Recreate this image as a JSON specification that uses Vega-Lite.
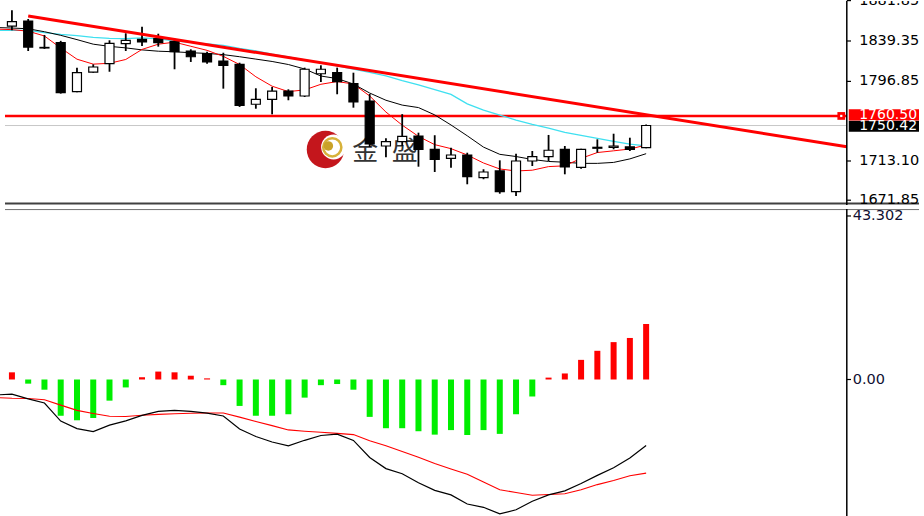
{
  "$schema": "https://vega.github.io/schema/vega-lite/v6.json",
  "padding": 0,
  "spacing": 2,
  "background": "white",
  "config": {"view": {"stroke": null}, "text": {"font": "DejaVu Sans"}},
  "datasets": {
    "candles": [
      {"i":0,"o":1855.1,"h":1871.6,"l":1850.6,"c":1859.7},
      {"i":1,"o":1860.4,"h":1862.5,"l":1828.8,"c":1833.0},
      {"i":2,"o":1832.6,"h":1845.7,"l":1831.0,"c":1832.0},
      {"i":3,"o":1837.6,"h":1839.5,"l":1784.0,"c":1785.0},
      {"i":4,"o":1786.0,"h":1811.3,"l":1785.5,"c":1806.0},
      {"i":5,"o":1806.7,"h":1814.8,"l":1806.0,"c":1812.0},
      {"i":6,"o":1815.5,"h":1840.1,"l":1807.0,"c":1836.9},
      {"i":7,"o":1836.5,"h":1847.5,"l":1828.8,"c":1840.1},
      {"i":8,"o":1841.1,"h":1854.4,"l":1834.1,"c":1838.3},
      {"i":9,"o":1841.8,"h":1847.0,"l":1833.4,"c":1837.6},
      {"i":10,"o":1838.6,"h":1841.8,"l":1809.6,"c":1828.1},
      {"i":11,"o":1828.8,"h":1830.6,"l":1817.3,"c":1822.8},
      {"i":12,"o":1826.0,"h":1828.1,"l":1815.5,"c":1817.3},
      {"i":13,"o":1818.3,"h":1827.0,"l":1789.2,"c":1813.8},
      {"i":14,"o":1814.8,"h":1816.5,"l":1770.0,"c":1771.7},
      {"i":15,"o":1772.8,"h":1789.6,"l":1768.1,"c":1778.0},
      {"i":16,"o":1778.0,"h":1791.0,"l":1762.2,"c":1786.7},
      {"i":17,"o":1786.7,"h":1788.5,"l":1777.0,"c":1781.5},
      {"i":18,"o":1781.5,"h":1811.3,"l":1780.4,"c":1809.6},
      {"i":19,"o":1804.9,"h":1813.8,"l":1796.2,"c":1809.6},
      {"i":20,"o":1806.0,"h":1811.3,"l":1783.3,"c":1796.5},
      {"i":21,"o":1794.4,"h":1806.0,"l":1769.2,"c":1775.2},
      {"i":22,"o":1776.2,"h":1783.6,"l":1727.8,"c":1731.0},
      {"i":23,"o":1728.9,"h":1737.0,"l":1717.0,"c":1733.4},
      {"i":24,"o":1733.4,"h":1762.4,"l":1729.0,"c":1739.0},
      {"i":25,"o":1739.4,"h":1742.9,"l":1707.1,"c":1725.4},
      {"i":26,"o":1725.4,"h":1740.2,"l":1701.5,"c":1714.9},
      {"i":27,"o":1715.9,"h":1727.1,"l":1706.1,"c":1719.4},
      {"i":28,"o":1719.4,"h":1721.8,"l":1688.6,"c":1696.6},
      {"i":29,"o":1695.6,"h":1704.4,"l":1693.9,"c":1701.5},
      {"i":30,"o":1702.6,"h":1713.8,"l":1678.7,"c":1680.8},
      {"i":31,"o":1680.8,"h":1720.8,"l":1676.3,"c":1713.1},
      {"i":32,"o":1713.1,"h":1723.6,"l":1707.8,"c":1717.6},
      {"i":33,"o":1717.7,"h":1740.5,"l":1713.1,"c":1724.4},
      {"i":34,"o":1725.4,"h":1728.9,"l":1699.1,"c":1706.8},
      {"i":35,"o":1706.4,"h":1726.0,"l":1705.0,"c":1725.4},
      {"i":36,"o":1726.5,"h":1735.9,"l":1721.8,"c":1727.5},
      {"i":37,"o":1727.5,"h":1741.8,"l":1725.4,"c":1728.9},
      {"i":38,"o":1727.9,"h":1737.6,"l":1723.6,"c":1725.4},
      {"i":39,"o":1727.1,"h":1751.5,"l":1726.5,"c":1750.42}
    ],
    "ma": [
      {"i":-1,"r":1851.9,"k":1853.5,"cy":1850.6},
      {"i":0,"r":1851.3,"k":1853.0,"cy":1850.6},
      {"i":1,"r":1849.7,"k":1852.2,"cy":1850.6},
      {"i":2,"r":1844.6,"k":1849.1,"cy":1848.1},
      {"i":3,"r":1832.0,"k":1845.3,"cy":1846.3},
      {"i":4,"r":1820.2,"k":1840.8,"cy":1845.0},
      {"i":5,"r":1815.0,"k":1836.0,"cy":1843.2},
      {"i":6,"r":1815.9,"k":1833.7,"cy":1842.1},
      {"i":7,"r":1819.9,"k":1832.1,"cy":1841.9},
      {"i":8,"r":1830.5,"k":1830.0,"cy":1842.7},
      {"i":9,"r":1836.0,"k":1828.6,"cy":1841.6},
      {"i":10,"r":1838.1,"k":1828.0,"cy":1839.6},
      {"i":11,"r":1833.8,"k":1827.0,"cy":1837.8},
      {"i":12,"r":1829.5,"k":1826.3,"cy":1836.2},
      {"i":13,"r":1823.2,"k":1825.0,"cy":1834.7},
      {"i":14,"r":1814.6,"k":1822.8,"cy":1831.6},
      {"i":15,"r":1801.7,"k":1820.3,"cy":1829.0},
      {"i":16,"r":1791.8,"k":1817.8,"cy":1825.4},
      {"i":17,"r":1786.1,"k":1814.6,"cy":1822.5},
      {"i":18,"r":1787.9,"k":1809.9,"cy":1819.4},
      {"i":19,"r":1793.8,"k":1802.5,"cy":1816.6},
      {"i":20,"r":1796.7,"k":1799.8,"cy":1813.3},
      {"i":21,"r":1794.1,"k":1794.1,"cy":1809.8},
      {"i":22,"r":1781.5,"k":1784.6,"cy":1806.4},
      {"i":23,"r":1764.6,"k":1777.0,"cy":1802.7},
      {"i":24,"r":1750.8,"k":1771.9,"cy":1797.7},
      {"i":25,"r":1739.0,"k":1769.3,"cy":1793.3},
      {"i":26,"r":1730.3,"k":1761.6,"cy":1788.1},
      {"i":27,"r":1726.1,"k":1751.0,"cy":1783.1},
      {"i":28,"r":1719.4,"k":1739.6,"cy":1773.2},
      {"i":29,"r":1711.0,"k":1727.7,"cy":1766.6},
      {"i":30,"r":1704.7,"k":1720.1,"cy":1761.4},
      {"i":31,"r":1702.6,"k":1717.8,"cy":1756.2},
      {"i":32,"r":1703.4,"k":1714.7,"cy":1751.7},
      {"i":33,"r":1707.2,"k":1712.6,"cy":1747.8},
      {"i":34,"r":1708.0,"k":1711.8,"cy":1743.2},
      {"i":35,"r":1715.9,"k":1710.6,"cy":1740.0},
      {"i":36,"r":1722.0,"k":1710.6,"cy":1736.8},
      {"i":37,"r":1723.8,"k":1711.6,"cy":1733.8},
      {"i":38,"r":1725.7,"k":1715.3,"cy":1730.9},
      {"i":39,"r":1729.9,"k":1720.8,"cy":1728.9}
    ],
    "hist": [
      {"i":0,"h":1.9},{"i":1,"h":-1.1},{"i":2,"h":-2.7},{"i":3,"h":-9.6},{"i":4,"h":-10.8},
      {"i":5,"h":-10.2},{"i":6,"h":-5.6},{"i":7,"h":-2.1},{"i":8,"h":0.6},{"i":9,"h":2.1},
      {"i":10,"h":1.9},{"i":11,"h":1.0},{"i":12,"h":0.3},{"i":13,"h":-1.5},{"i":14,"h":-7.0},
      {"i":15,"h":-9.6},{"i":16,"h":-9.6},{"i":17,"h":-9.2},{"i":18,"h":-4.8},{"i":19,"h":-1.5},
      {"i":20,"h":-1.2},{"i":21,"h":-2.7},{"i":22,"h":-9.9},{"i":23,"h":-12.9},{"i":24,"h":-12.9},
      {"i":25,"h":-13.7},{"i":26,"h":-14.6},{"i":27,"h":-13.4},{"i":28,"h":-14.7},{"i":29,"h":-13.4},
      {"i":30,"h":-14.4},{"i":31,"h":-9.2},{"i":32,"h":-4.5},{"i":33,"h":0.5},{"i":34,"h":1.6},
      {"i":35,"h":5.2},{"i":36,"h":7.6},{"i":37,"h":9.9},{"i":38,"h":11.0},{"i":39,"h":14.7}
    ],
    "macd": [
      {"i":-1,"m":-4.10,"s":-4.77},{"i":0,"m":-3.89,"s":-4.95},{"i":1,"m":-5.14,"s":-5.03},
      {"i":2,"m":-6.22,"s":-5.35},{"i":3,"m":-11.02,"s":-6.78},{"i":4,"m":-13.00,"s":-8.18},
      {"i":5,"m":-13.80,"s":-9.00},{"i":6,"m":-12.10,"s":-9.74},{"i":7,"m":-10.96,"s":-9.80},
      {"i":8,"m":-9.51,"s":-9.48},{"i":9,"m":-8.45,"s":-9.24},{"i":10,"m":-8.16,"s":-9.06},
      {"i":11,"m":-8.45,"s":-8.92},{"i":12,"m":-8.90,"s":-8.87},{"i":13,"m":-9.67,"s":-8.87},
      {"i":14,"m":-13.11,"s":-9.96},{"i":15,"m":-15.09,"s":-11.10},{"i":16,"m":-16.55,"s":-12.21},
      {"i":17,"m":-17.56,"s":-13.35},{"i":18,"m":-16.10,"s":-13.69},{"i":19,"m":-14.83,"s":-13.98},
      {"i":20,"m":-14.48,"s":-14.27},{"i":21,"m":-16.13,"s":-14.59},{"i":22,"m":-20.65,"s":-16.23},
      {"i":23,"m":-23.59,"s":-17.53},{"i":24,"m":-24.97,"s":-19.07},{"i":25,"m":-27.35,"s":-20.60},
      {"i":26,"m":-29.37,"s":-22.24},{"i":27,"m":-30.56,"s":-23.70},{"i":28,"m":-32.97,"s":-25.08},
      {"i":29,"m":-33.84,"s":-27.17},{"i":30,"m":-35.59,"s":-29.18},{"i":31,"m":-34.48,"s":-29.92},
      {"i":32,"m":-32.25,"s":-30.66},{"i":33,"m":-30.56,"s":-30.45},{"i":34,"m":-29.50,"s":-30.27},
      {"i":35,"m":-27.54,"s":-29.18},{"i":36,"m":-25.39,"s":-27.83},{"i":37,"m":-23.36,"s":-26.74},
      {"i":38,"m":-20.76,"s":-25.50},{"i":39,"m":-17.48,"s":-24.79}
    ],
    "ticksTop": [{"v":1881.85},{"v":1839.35},{"v":1796.85},{"v":1713.10},{"v":1671.85}],
    "ticksBot": [{"v":43.302,"t":"43.302"},{"v":0,"t":"0.00"},{"v":-37.9,"t":"-37.930"}],
    "one": [{}]
  },
  "vconcat": [
    {
      "width": 924,
      "height": 204,
      "layer": [
        {"data":{"name":"one"},"mark":{"type":"point","shape":"circle","filled":true,"opacity":1,"size":1400,"color":"#c4161c"},
         "encoding":{"x":{"datum":19.28,"type":"quantitative","scale":{"domain":[-0.426,55.78],"nice":false,"zero":false},"axis":null},
                     "y":{"datum":1725.2,"type":"quantitative","scale":{"domain":[1666.8,1881.43],"nice":false,"zero":false},"axis":null}}},
        {"data":{"name":"one"},"mark":{"type":"point","shape":"circle","filled":true,"opacity":1,"size":620,"color":"white"},
         "encoding":{"x":{"datum":19.78,"type":"quantitative"},"y":{"datum":1727.8,"type":"quantitative"}}},
        {"data":{"name":"one"},"mark":{"type":"point","shape":"circle","filled":false,"opacity":1,"size":330,"strokeWidth":2.5,"color":"#d7b23a"},
         "encoding":{"x":{"datum":19.7,"type":"quantitative"},"y":{"datum":1727.5,"type":"quantitative"}}},
        {"data":{"name":"one"},"mark":{"type":"point","shape":"circle","filled":true,"opacity":1,"size":90,"color":"#c9a227"},
         "encoding":{"x":{"datum":19.46,"type":"quantitative"},"y":{"datum":1728.9,"type":"quantitative"}}},
        {"data":{"name":"one"},"mark":{"type":"text","text":"金","font":"Noto Sans CJK SC","fontSize":26,"color":"#333333","align":"center","baseline":"middle"},
         "encoding":{"x":{"datum":21.72,"type":"quantitative"},"y":{"datum":1722.6,"type":"quantitative"}}},
        {"data":{"name":"one"},"mark":{"type":"text","text":"盛","font":"Noto Sans CJK SC","fontSize":26,"color":"#333333","align":"center","baseline":"middle"},
         "encoding":{"x":{"datum":24.15,"type":"quantitative"},"y":{"datum":1722.6,"type":"quantitative"}}},
        {"data":{"name":"one"},"mark":{"type":"rule","color":"#c8c8c8","strokeWidth":1},
         "encoding":{"x":{"datum":-0.426,"type":"quantitative"},"x2":{"datum":51.34},"y":{"datum":1750.42,"type":"quantitative"}}},
        {"data":{"name":"one"},"mark":{"type":"rule","color":"#ff0000","strokeWidth":2.5},
         "encoding":{"x":{"datum":-0.426,"type":"quantitative"},"x2":{"datum":51.34},"y":{"datum":1760.5,"type":"quantitative"}}},
        {"data":{"name":"ma"},"mark":{"type":"line","color":"#3fe0f0","strokeWidth":1.3,"clip":true},
         "encoding":{"x":{"field":"i","type":"quantitative"},"y":{"field":"cy","type":"quantitative"}}},
        {"data":{"name":"ma"},"mark":{"type":"line","color":"#000000","strokeWidth":1,"clip":true},
         "encoding":{"x":{"field":"i","type":"quantitative"},"y":{"field":"k","type":"quantitative"}}},
        {"data":{"name":"ma"},"mark":{"type":"line","color":"#ff0000","strokeWidth":1,"clip":true},
         "encoding":{"x":{"field":"i","type":"quantitative"},"y":{"field":"r","type":"quantitative"}}},
        {"data":{"name":"candles"},"mark":{"type":"rule","color":"#000000","strokeWidth":1.8},
         "encoding":{"x":{"field":"i","type":"quantitative"},"y":{"field":"l","type":"quantitative"},"y2":{"field":"h"}}},
        {"data":{"name":"candles"},"mark":{"type":"bar","size":9,"stroke":"#000000","strokeWidth":1.2},
         "encoding":{"x":{"field":"i","type":"quantitative"},"y":{"field":"o","type":"quantitative"},"y2":{"field":"c"},
                     "fill":{"condition":{"test":"datum.c >= datum.o","value":"#ffffff"},"value":"#000000"}}},
        {"data":{"name":"one"},"mark":{"type":"rule","color":"#ff0000","strokeWidth":3},
         "encoding":{"x":{"datum":1,"type":"quantitative"},"y":{"datum":1865.65,"type":"quantitative"},"x2":{"datum":51.34},"y2":{"datum":1728.0}}},
        {"data":{"name":"one"},"mark":{"type":"rule","color":"#404040","strokeWidth":2},
         "encoding":{"x":{"datum":-0.426,"type":"quantitative"},"x2":{"datum":55.78},"y":{"datum":1668.4,"type":"quantitative"}}},
        {"data":{"name":"one"},"mark":{"type":"rule","color":"#000000","strokeWidth":1.5},
         "encoding":{"x":{"datum":51.34,"type":"quantitative"},"y":{"datum":1666.8,"type":"quantitative"},"y2":{"datum":1881.43}}},
        {"data":{"name":"ticksTop"},"mark":{"type":"rule","color":"#000000","strokeWidth":1.2},
         "encoding":{"x":{"datum":51.34,"type":"quantitative"},"x2":{"datum":51.6},"y":{"field":"v","type":"quantitative"}}},
        {"data":{"name":"ticksTop"},"mark":{"type":"text","fontSize":14.5,"color":"#000000","align":"left","baseline":"middle","clip":true},
         "encoding":{"x":{"datum":52.1,"type":"quantitative"},"y":{"field":"v","type":"quantitative"},"text":{"field":"v","type":"quantitative","format":".2f"}}},
        {"data":{"name":"one"},"mark":{"type":"rect","color":"#000000"},
         "encoding":{"x":{"datum":51.46,"type":"quantitative"},"x2":{"datum":55.78},"y":{"datum":1743.9,"type":"quantitative"},"y2":{"datum":1755.4}}},
        {"data":{"name":"one"},"mark":{"type":"rect","color":"#ff0000"},
         "encoding":{"x":{"datum":51.46,"type":"quantitative"},"x2":{"datum":55.78},"y":{"datum":1755.6,"type":"quantitative"},"y2":{"datum":1767.5}}},
        {"data":{"name":"one"},"mark":{"type":"point","shape":"square","filled":true,"opacity":1,"size":60,"color":"#ff0000"},
         "encoding":{"x":{"datum":51.0,"type":"quantitative"},"y":{"datum":1760.5,"type":"quantitative"}}},
        {"data":{"name":"one"},"mark":{"type":"point","shape":"square","filled":true,"opacity":1,"size":5,"color":"#ffffff"},
         "encoding":{"x":{"datum":51.0,"type":"quantitative"},"y":{"datum":1760.5,"type":"quantitative"}}},
        {"data":{"name":"one"},"mark":{"type":"text","text":"1760.50","fontSize":14,"color":"#ffffff","align":"left","baseline":"middle","clip":true},
         "encoding":{"x":{"datum":52.1,"type":"quantitative"},"y":{"datum":1761.6,"type":"quantitative"}}},
        {"data":{"name":"one"},"mark":{"type":"text","text":"1750.42","fontSize":14,"color":"#ffffff","align":"left","baseline":"middle","clip":true},
         "encoding":{"x":{"datum":52.1,"type":"quantitative"},"y":{"datum":1749.6,"type":"quantitative"}}}
      ]
    },
    {
      "width": 924,
      "height": 310,
      "layer": [
        {"data":{"name":"hist"},"mark":{"type":"bar","size":6},
         "encoding":{"x":{"field":"i","type":"quantitative","scale":{"domain":[-0.426,55.78],"nice":false,"zero":false},"axis":null},
                     "y":{"field":"h","type":"quantitative","scale":{"domain":[-36.94,45.15],"nice":false,"zero":false},"axis":null},
                     "y2":{"datum":0},
                     "color":{"condition":{"test":"datum.h >= 0","value":"#ff0000"},"value":"#00ee00"}}},
        {"data":{"name":"macd"},"mark":{"type":"line","color":"#ff0000","strokeWidth":1.1,"clip":true},
         "encoding":{"x":{"field":"i","type":"quantitative"},"y":{"field":"s","type":"quantitative"}}},
        {"data":{"name":"macd"},"mark":{"type":"line","color":"#000000","strokeWidth":1.2,"clip":true},
         "encoding":{"x":{"field":"i","type":"quantitative"},"y":{"field":"m","type":"quantitative"}}},
        {"data":{"name":"one"},"mark":{"type":"rule","color":"#707070","strokeWidth":1},
         "encoding":{"x":{"datum":-0.426,"type":"quantitative"},"x2":{"datum":55.78},"y":{"datum":45.0,"type":"quantitative"}}},
        {"data":{"name":"one"},"mark":{"type":"rule","color":"#000000","strokeWidth":1.5},
         "encoding":{"x":{"datum":51.34,"type":"quantitative"},"y":{"datum":-36.94,"type":"quantitative"},"y2":{"datum":45.15}}},
        {"data":{"name":"ticksBot"},"mark":{"type":"rule","color":"#000000","strokeWidth":1.2},
         "encoding":{"x":{"datum":51.34,"type":"quantitative"},"x2":{"datum":51.6},"y":{"field":"v","type":"quantitative"}}},
        {"data":{"name":"ticksBot"},"mark":{"type":"text","fontSize":14.5,"color":"#111133","align":"left","baseline":"middle","clip":true},
         "encoding":{"x":{"datum":51.7,"type":"quantitative"},"y":{"field":"v","type":"quantitative"},"text":{"field":"t","type":"nominal"}}}
      ]
    }
  ]
}
